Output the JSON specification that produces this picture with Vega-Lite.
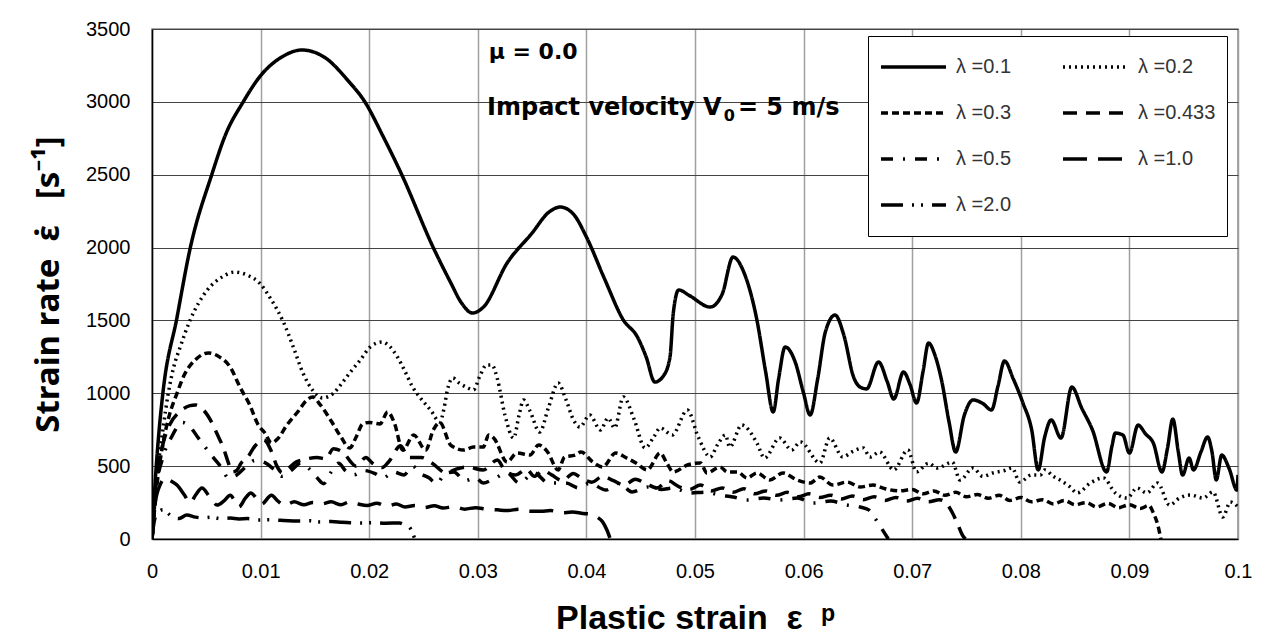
{
"$schema": "https://vega.github.io/schema/vega-lite/v6.json",
"width": 1086, "height": 510,
"autosize": {"type": "none"},
"padding": {"left": 152, "top": 29, "right": 34, "bottom": 103},
"background": "white",
"config": {"view": {"stroke": "#888", "strokeWidth": 1.5}, "font": "Liberation Sans"},
"datasets": {
"curves": [
{"lam":"λ =0.1","x":0,"y":0},{"lam":"λ =0.1","x":0.0003,"y":400},{"lam":"λ =0.1","x":0.0006,"y":700},{"lam":"λ =0.1","x":0.001,"y":1000},{"lam":"λ =0.1","x":0.0023,"y":1520},{"lam":"λ =0.1","x":0.0035,"y":1990},{"lam":"λ =0.1","x":0.0055,"y":2500},{"lam":"λ =0.1","x":0.0068,"y":2780},{"lam":"λ =0.1","x":0.0084,"y":3000},{"lam":"λ =0.1","x":0.01,"y":3180},{"lam":"λ =0.1","x":0.012,"y":3310},{"lam":"λ =0.1","x":0.0138,"y":3356},{"lam":"λ =0.1","x":0.016,"y":3300},{"lam":"λ =0.1","x":0.018,"y":3150},{"lam":"λ =0.1","x":0.0196,"y":3000},{"lam":"λ =0.1","x":0.0213,"y":2760},{"lam":"λ =0.1","x":0.023,"y":2500},{"lam":"λ =0.1","x":0.0259,"y":2000},{"lam":"λ =0.1","x":0.0275,"y":1760},{"lam":"λ =0.1","x":0.0285,"y":1620},{"lam":"λ =0.1","x":0.0295,"y":1551},{"lam":"λ =0.1","x":0.0305,"y":1590},{"lam":"λ =0.1","x":0.0327,"y":1894},{"lam":"λ =0.1","x":0.035,"y":2100},{"lam":"λ =0.1","x":0.0365,"y":2240},{"lam":"λ =0.1","x":0.0376,"y":2278},{"lam":"λ =0.1","x":0.0388,"y":2230},{"lam":"λ =0.1","x":0.04,"y":2073},{"lam":"λ =0.1","x":0.0417,"y":1780},{"lam":"λ =0.1","x":0.0434,"y":1503},{"lam":"λ =0.1","x":0.0447,"y":1386},{"lam":"λ =0.1","x":0.0455,"y":1250},{"lam":"λ =0.1","x":0.0463,"y":1077},{"lam":"λ =0.1","x":0.0471,"y":1120},{"lam":"λ =0.1","x":0.0477,"y":1250},{"lam":"λ =0.1","x":0.048,"y":1550},{"lam":"λ =0.1","x":0.0485,"y":1709},{"lam":"λ =0.1","x":0.0495,"y":1670},{"lam":"λ =0.1","x":0.0514,"y":1592},{"lam":"λ =0.1","x":0.0525,"y":1680},{"lam":"λ =0.1","x":0.0535,"y":1935},{"lam":"λ =0.1","x":0.0545,"y":1830},{"lam":"λ =0.1","x":0.0557,"y":1503},{"lam":"λ =0.1","x":0.0565,"y":1150},{"lam":"λ =0.1","x":0.0572,"y":872},{"lam":"λ =0.1","x":0.0577,"y":1100},{"lam":"λ =0.1","x":0.0583,"y":1318},{"lam":"λ =0.1","x":0.0592,"y":1220},{"lam":"λ =0.1","x":0.06,"y":1000},{"lam":"λ =0.1","x":0.0606,"y":851},{"lam":"λ =0.1","x":0.0613,"y":1100},{"lam":"λ =0.1","x":0.062,"y":1420},{"lam":"λ =0.1","x":0.0629,"y":1537},{"lam":"λ =0.1","x":0.0637,"y":1400},{"lam":"λ =0.1","x":0.0646,"y":1112},{"lam":"λ =0.1","x":0.0652,"y":1043},{"lam":"λ =0.1","x":0.0658,"y":1030},{"lam":"λ =0.1","x":0.0669,"y":1215},{"lam":"λ =0.1","x":0.0677,"y":1080},{"lam":"λ =0.1","x":0.0683,"y":961},{"lam":"λ =0.1","x":0.0692,"y":1146},{"lam":"λ =0.1","x":0.0698,"y":1060},{"lam":"λ =0.1","x":0.0704,"y":933},{"lam":"λ =0.1","x":0.071,"y":1150},{"lam":"λ =0.1","x":0.0715,"y":1345},{"lam":"λ =0.1","x":0.0721,"y":1260},{"lam":"λ =0.1","x":0.0727,"y":1091},{"lam":"λ =0.1","x":0.0734,"y":800},{"lam":"λ =0.1","x":0.074,"y":597},{"lam":"λ =0.1","x":0.0748,"y":850},{"lam":"λ =0.1","x":0.0756,"y":954},{"lam":"λ =0.1","x":0.0765,"y":930},{"lam":"λ =0.1","x":0.0773,"y":885},{"lam":"λ =0.1","x":0.0779,"y":1050},{"lam":"λ =0.1","x":0.0785,"y":1222},{"lam":"λ =0.1","x":0.0793,"y":1100},{"lam":"λ =0.1","x":0.0802,"y":933},{"lam":"λ =0.1","x":0.081,"y":750},{"lam":"λ =0.1","x":0.0816,"y":474},{"lam":"λ =0.1","x":0.0822,"y":700},{"lam":"λ =0.1","x":0.0828,"y":817},{"lam":"λ =0.1","x":0.0837,"y":693},{"lam":"λ =0.1","x":0.0847,"y":1043},{"lam":"λ =0.1","x":0.0856,"y":900},{"lam":"λ =0.1","x":0.0866,"y":748},{"lam":"λ =0.1","x":0.0879,"y":460},{"lam":"λ =0.1","x":0.0884,"y":640},{"lam":"λ =0.1","x":0.0887,"y":727},{"lam":"λ =0.1","x":0.0894,"y":714},{"lam":"λ =0.1","x":0.09,"y":590},{"lam":"λ =0.1","x":0.0908,"y":782},{"lam":"λ =0.1","x":0.0915,"y":720},{"lam":"λ =0.1","x":0.0922,"y":659},{"lam":"λ =0.1","x":0.093,"y":460},{"lam":"λ =0.1","x":0.0935,"y":620},{"lam":"λ =0.1","x":0.094,"y":823},{"lam":"λ =0.1","x":0.0945,"y":600},{"lam":"λ =0.1","x":0.0949,"y":439},{"lam":"λ =0.1","x":0.0955,"y":556},{"lam":"λ =0.1","x":0.0959,"y":474},{"lam":"λ =0.1","x":0.0966,"y":600},{"lam":"λ =0.1","x":0.0972,"y":700},{"lam":"λ =0.1","x":0.0976,"y":600},{"lam":"λ =0.1","x":0.098,"y":405},{"lam":"λ =0.1","x":0.0985,"y":576},{"lam":"λ =0.1","x":0.0992,"y":480},{"lam":"λ =0.1","x":0.0999,"y":336},{"lam":"λ =0.1","x":0.1,"y":440},
{"lam":"λ =0.2","x":0,"y":0},{"lam":"λ =0.2","x":0.0005,"y":450},{"lam":"λ =0.2","x":0.001,"y":750},{"lam":"λ =0.2","x":0.0015,"y":1000},{"lam":"λ =0.2","x":0.002,"y":1180},{"lam":"λ =0.2","x":0.0026,"y":1318},{"lam":"λ =0.2","x":0.0035,"y":1500},{"lam":"λ =0.2","x":0.0051,"y":1709},{"lam":"λ =0.2","x":0.0065,"y":1800},{"lam":"λ =0.2","x":0.0076,"y":1832},{"lam":"λ =0.2","x":0.0088,"y":1810},{"lam":"λ =0.2","x":0.0099,"y":1757},{"lam":"λ =0.2","x":0.011,"y":1640},{"lam":"λ =0.2","x":0.0121,"y":1489},{"lam":"λ =0.2","x":0.013,"y":1320},{"lam":"λ =0.2","x":0.0139,"y":1139},{"lam":"λ =0.2","x":0.0148,"y":1020},{"lam":"λ =0.2","x":0.0157,"y":968},{"lam":"λ =0.2","x":0.0167,"y":1000},{"lam":"λ =0.2","x":0.0176,"y":1080},{"lam":"λ =0.2","x":0.0182,"y":1139},{"lam":"λ =0.2","x":0.0192,"y":1230},{"lam":"λ =0.2","x":0.0201,"y":1318},{"lam":"λ =0.2","x":0.0212,"y":1352},{"lam":"λ =0.2","x":0.0219,"y":1320},{"lam":"λ =0.2","x":0.0226,"y":1249},{"lam":"λ =0.2","x":0.0233,"y":1150},{"lam":"λ =0.2","x":0.024,"y":1043},{"lam":"λ =0.2","x":0.0248,"y":960},{"lam":"λ =0.2","x":0.0257,"y":880},{"lam":"λ =0.2","x":0.0265,"y":803},{"lam":"λ =0.2","x":0.0269,"y":900},{"lam":"λ =0.2","x":0.0272,"y":1022},{"lam":"λ =0.2","x":0.0277,"y":1105},{"lam":"λ =0.2","x":0.0283,"y":1070},{"lam":"λ =0.2","x":0.029,"y":1040},{"lam":"λ =0.2","x":0.0296,"y":1023},{"lam":"λ =0.2","x":0.0302,"y":1120},{"lam":"λ =0.2","x":0.0308,"y":1194},{"lam":"λ =0.2","x":0.0313,"y":1194},{"lam":"λ =0.2","x":0.0318,"y":1100},{"lam":"λ =0.2","x":0.0325,"y":850},{"lam":"λ =0.2","x":0.0333,"y":693},{"lam":"λ =0.2","x":0.0338,"y":850},{"lam":"λ =0.2","x":0.0342,"y":954},{"lam":"λ =0.2","x":0.0348,"y":880},{"lam":"λ =0.2","x":0.0357,"y":734},{"lam":"λ =0.2","x":0.0365,"y":900},{"lam":"λ =0.2","x":0.0374,"y":1071},{"lam":"λ =0.2","x":0.0381,"y":960},{"lam":"λ =0.2","x":0.0388,"y":820},{"lam":"λ =0.2","x":0.0394,"y":769},{"lam":"λ =0.2","x":0.0403,"y":851},{"lam":"λ =0.2","x":0.0413,"y":748},{"lam":"λ =0.2","x":0.042,"y":830},{"lam":"λ =0.2","x":0.0426,"y":762},{"lam":"λ =0.2","x":0.0434,"y":975},{"lam":"λ =0.2","x":0.0444,"y":820},{"lam":"λ =0.2","x":0.0454,"y":625},{"lam":"λ =0.2","x":0.0462,"y":700},{"lam":"λ =0.2","x":0.0468,"y":762},{"lam":"λ =0.2","x":0.0479,"y":714},{"lam":"λ =0.2","x":0.0493,"y":885},{"lam":"λ =0.2","x":0.0503,"y":700},{"lam":"λ =0.2","x":0.0514,"y":563},{"lam":"λ =0.2","x":0.0521,"y":650},{"lam":"λ =0.2","x":0.0528,"y":714},{"lam":"λ =0.2","x":0.0532,"y":631},{"lam":"λ =0.2","x":0.0543,"y":782},{"lam":"λ =0.2","x":0.0557,"y":659},{"lam":"λ =0.2","x":0.0564,"y":556},{"lam":"λ =0.2","x":0.0578,"y":693},{"lam":"λ =0.2","x":0.0589,"y":611},{"lam":"λ =0.2","x":0.0597,"y":666},{"lam":"λ =0.2","x":0.0615,"y":522},{"lam":"λ =0.2","x":0.0624,"y":693},{"lam":"λ =0.2","x":0.0636,"y":563},{"lam":"λ =0.2","x":0.0645,"y":600},{"lam":"λ =0.2","x":0.0655,"y":625},{"lam":"λ =0.2","x":0.0661,"y":563},{"lam":"λ =0.2","x":0.067,"y":597},{"lam":"λ =0.2","x":0.0683,"y":474},{"lam":"λ =0.2","x":0.0696,"y":611},{"lam":"λ =0.2","x":0.0704,"y":460},{"lam":"λ =0.2","x":0.0715,"y":520},{"lam":"λ =0.2","x":0.0723,"y":487},{"lam":"λ =0.2","x":0.0737,"y":528},{"lam":"λ =0.2","x":0.0744,"y":405},{"lam":"λ =0.2","x":0.0756,"y":487},{"lam":"λ =0.2","x":0.0765,"y":430},{"lam":"λ =0.2","x":0.0774,"y":453},{"lam":"λ =0.2","x":0.0785,"y":470},{"lam":"λ =0.2","x":0.0792,"y":487},{"lam":"λ =0.2","x":0.0799,"y":391},{"lam":"λ =0.2","x":0.081,"y":440},{"lam":"λ =0.2","x":0.0818,"y":439},{"lam":"λ =0.2","x":0.0822,"y":474},{"lam":"λ =0.2","x":0.083,"y":430},{"lam":"λ =0.2","x":0.0836,"y":405},{"lam":"λ =0.2","x":0.0845,"y":360},{"lam":"λ =0.2","x":0.0852,"y":316},{"lam":"λ =0.2","x":0.0864,"y":384},{"lam":"λ =0.2","x":0.0876,"y":419},{"lam":"λ =0.2","x":0.0887,"y":316},{"lam":"λ =0.2","x":0.0898,"y":281},{"lam":"λ =0.2","x":0.0907,"y":350},{"lam":"λ =0.2","x":0.0916,"y":316},{"lam":"λ =0.2","x":0.0926,"y":384},{"lam":"λ =0.2","x":0.0937,"y":233},{"lam":"λ =0.2","x":0.0946,"y":280},{"lam":"λ =0.2","x":0.0956,"y":302},{"lam":"λ =0.2","x":0.0968,"y":281},{"lam":"λ =0.2","x":0.0977,"y":323},{"lam":"λ =0.2","x":0.0986,"y":151},{"lam":"λ =0.2","x":0.0993,"y":254},{"lam":"λ =0.2","x":0.1,"y":220},
{"lam":"λ =0.3","x":0,"y":0},{"lam":"λ =0.3","x":0.0005,"y":400},{"lam":"λ =0.3","x":0.001,"y":650},{"lam":"λ =0.3","x":0.0016,"y":850},{"lam":"λ =0.3","x":0.0023,"y":1000},{"lam":"λ =0.3","x":0.003,"y":1130},{"lam":"λ =0.3","x":0.004,"y":1230},{"lam":"λ =0.3","x":0.0052,"y":1277},{"lam":"λ =0.3","x":0.0062,"y":1250},{"lam":"λ =0.3","x":0.0072,"y":1180},{"lam":"λ =0.3","x":0.0081,"y":1043},{"lam":"λ =0.3","x":0.009,"y":920},{"lam":"λ =0.3","x":0.0098,"y":780},{"lam":"λ =0.3","x":0.0104,"y":727},{"lam":"λ =0.3","x":0.011,"y":660},{"lam":"λ =0.3","x":0.0116,"y":690},{"lam":"λ =0.3","x":0.0124,"y":780},{"lam":"λ =0.3","x":0.0135,"y":880},{"lam":"λ =0.3","x":0.0142,"y":950},{"lam":"λ =0.3","x":0.0148,"y":975},{"lam":"λ =0.3","x":0.0155,"y":920},{"lam":"λ =0.3","x":0.0165,"y":810},{"lam":"λ =0.3","x":0.0174,"y":700},{"lam":"λ =0.3","x":0.0182,"y":624},{"lam":"λ =0.3","x":0.0188,"y":700},{"lam":"λ =0.3","x":0.0194,"y":790},{"lam":"λ =0.3","x":0.02,"y":800},{"lam":"λ =0.3","x":0.021,"y":790},{"lam":"λ =0.3","x":0.0217,"y":872},{"lam":"λ =0.3","x":0.0223,"y":800},{"lam":"λ =0.3","x":0.0231,"y":610},{"lam":"λ =0.3","x":0.0241,"y":714},{"lam":"λ =0.3","x":0.0252,"y":610},{"lam":"λ =0.3","x":0.0259,"y":748},{"lam":"λ =0.3","x":0.0265,"y":800},{"lam":"λ =0.3","x":0.0275,"y":645},{"lam":"λ =0.3","x":0.0287,"y":610},{"lam":"λ =0.3","x":0.0296,"y":631},{"lam":"λ =0.3","x":0.0305,"y":631},{"lam":"λ =0.3","x":0.031,"y":714},{"lam":"λ =0.3","x":0.0315,"y":690},{"lam":"λ =0.3","x":0.0327,"y":528},{"lam":"λ =0.3","x":0.0336,"y":590},{"lam":"λ =0.3","x":0.0348,"y":576},{"lam":"λ =0.3","x":0.0356,"y":645},{"lam":"λ =0.3","x":0.0364,"y":600},{"lam":"λ =0.3","x":0.0374,"y":474},{"lam":"λ =0.3","x":0.038,"y":563},{"lam":"λ =0.3","x":0.039,"y":576},{"lam":"λ =0.3","x":0.0395,"y":597},{"lam":"λ =0.3","x":0.0406,"y":528},{"lam":"λ =0.3","x":0.0415,"y":494},{"lam":"λ =0.3","x":0.0427,"y":590},{"lam":"λ =0.3","x":0.0437,"y":556},{"lam":"λ =0.3","x":0.0446,"y":520},{"lam":"λ =0.3","x":0.0456,"y":474},{"lam":"λ =0.3","x":0.0468,"y":590},{"lam":"λ =0.3","x":0.0474,"y":522},{"lam":"λ =0.3","x":0.048,"y":460},{"lam":"λ =0.3","x":0.0493,"y":508},{"lam":"λ =0.3","x":0.0505,"y":522},{"lam":"λ =0.3","x":0.0511,"y":453},{"lam":"λ =0.3","x":0.0523,"y":494},{"lam":"λ =0.3","x":0.053,"y":460},{"lam":"λ =0.3","x":0.0539,"y":460},{"lam":"λ =0.3","x":0.0548,"y":419},{"lam":"λ =0.3","x":0.0557,"y":453},{"lam":"λ =0.3","x":0.0569,"y":405},{"lam":"λ =0.3","x":0.0581,"y":453},{"lam":"λ =0.3","x":0.0594,"y":405},{"lam":"λ =0.3","x":0.0606,"y":384},{"lam":"λ =0.3","x":0.0615,"y":425},{"lam":"λ =0.3","x":0.0627,"y":370},{"lam":"λ =0.3","x":0.064,"y":391},{"lam":"λ =0.3","x":0.0652,"y":357},{"lam":"λ =0.3","x":0.0664,"y":370},{"lam":"λ =0.3","x":0.0675,"y":345},{"lam":"λ =0.3","x":0.0688,"y":330},{"lam":"λ =0.3","x":0.07,"y":340},{"lam":"λ =0.3","x":0.071,"y":310},{"lam":"λ =0.3","x":0.072,"y":330},{"lam":"λ =0.3","x":0.073,"y":300},{"lam":"λ =0.3","x":0.074,"y":320},{"lam":"λ =0.3","x":0.075,"y":290},{"lam":"λ =0.3","x":0.076,"y":305},{"lam":"λ =0.3","x":0.077,"y":280},{"lam":"λ =0.3","x":0.078,"y":300},{"lam":"λ =0.3","x":0.079,"y":265},{"lam":"λ =0.3","x":0.08,"y":285},{"lam":"λ =0.3","x":0.081,"y":255},{"lam":"λ =0.3","x":0.082,"y":270},{"lam":"λ =0.3","x":0.083,"y":240},{"lam":"λ =0.3","x":0.084,"y":265},{"lam":"λ =0.3","x":0.085,"y":235},{"lam":"λ =0.3","x":0.086,"y":250},{"lam":"λ =0.3","x":0.087,"y":220},{"lam":"λ =0.3","x":0.088,"y":245},{"lam":"λ =0.3","x":0.089,"y":215},{"lam":"λ =0.3","x":0.09,"y":235},{"lam":"λ =0.3","x":0.091,"y":210},{"lam":"λ =0.3","x":0.0918,"y":230},{"lam":"λ =0.3","x":0.0922,"y":180},{"lam":"λ =0.3","x":0.0926,"y":100},{"lam":"λ =0.3","x":0.0929,"y":0},
{"lam":"λ =0.433","x":0,"y":0},{"lam":"λ =0.433","x":0.0004,"y":400},{"lam":"λ =0.433","x":0.001,"y":650},{"lam":"λ =0.433","x":0.0016,"y":780},{"lam":"λ =0.433","x":0.0025,"y":870},{"lam":"λ =0.433","x":0.0035,"y":915},{"lam":"λ =0.433","x":0.004,"y":920},{"lam":"λ =0.433","x":0.0048,"y":880},{"lam":"λ =0.433","x":0.0055,"y":800},{"lam":"λ =0.433","x":0.006,"y":720},{"lam":"λ =0.433","x":0.0066,"y":620},{"lam":"λ =0.433","x":0.007,"y":530},{"lam":"λ =0.433","x":0.0074,"y":460},{"lam":"λ =0.433","x":0.0078,"y":470},{"lam":"λ =0.433","x":0.0082,"y":520},{"lam":"λ =0.433","x":0.0088,"y":560},{"lam":"λ =0.433","x":0.0095,"y":640},{"lam":"λ =0.433","x":0.0103,"y":680},{"lam":"λ =0.433","x":0.011,"y":600},{"lam":"λ =0.433","x":0.0115,"y":500},{"lam":"λ =0.433","x":0.012,"y":455},{"lam":"λ =0.433","x":0.0125,"y":480},{"lam":"λ =0.433","x":0.0133,"y":530},{"lam":"λ =0.433","x":0.014,"y":545},{"lam":"λ =0.433","x":0.0152,"y":560},{"lam":"λ =0.433","x":0.016,"y":550},{"lam":"λ =0.433","x":0.0167,"y":620},{"lam":"λ =0.433","x":0.0175,"y":600},{"lam":"λ =0.433","x":0.0188,"y":500},{"lam":"λ =0.433","x":0.0197,"y":560},{"lam":"λ =0.433","x":0.0203,"y":520},{"lam":"λ =0.433","x":0.0212,"y":490},{"lam":"λ =0.433","x":0.0218,"y":530},{"lam":"λ =0.433","x":0.0229,"y":640},{"lam":"λ =0.433","x":0.0236,"y":560},{"lam":"λ =0.433","x":0.0248,"y":560},{"lam":"λ =0.433","x":0.0258,"y":520},{"lam":"λ =0.433","x":0.0271,"y":453},{"lam":"λ =0.433","x":0.028,"y":480},{"lam":"λ =0.433","x":0.029,"y":494},{"lam":"λ =0.433","x":0.0305,"y":474},{"lam":"λ =0.433","x":0.0318,"y":542},{"lam":"λ =0.433","x":0.0325,"y":470},{"lam":"λ =0.433","x":0.0335,"y":440},{"lam":"λ =0.433","x":0.0345,"y":480},{"lam":"λ =0.433","x":0.0352,"y":430},{"lam":"λ =0.433","x":0.036,"y":470},{"lam":"λ =0.433","x":0.0368,"y":440},{"lam":"λ =0.433","x":0.0378,"y":400},{"lam":"λ =0.433","x":0.0388,"y":450},{"lam":"λ =0.433","x":0.0395,"y":420},{"lam":"λ =0.433","x":0.0405,"y":390},{"lam":"λ =0.433","x":0.0415,"y":430},{"lam":"λ =0.433","x":0.0425,"y":400},{"lam":"λ =0.433","x":0.0435,"y":370},{"lam":"λ =0.433","x":0.0445,"y":410},{"lam":"λ =0.433","x":0.0455,"y":380},{"lam":"λ =0.433","x":0.0465,"y":350},{"lam":"λ =0.433","x":0.0475,"y":400},{"lam":"λ =0.433","x":0.0485,"y":360},{"lam":"λ =0.433","x":0.0495,"y":340},{"lam":"λ =0.433","x":0.0505,"y":370},{"lam":"λ =0.433","x":0.0515,"y":330},{"lam":"λ =0.433","x":0.0525,"y":350},{"lam":"λ =0.433","x":0.0535,"y":320},{"lam":"λ =0.433","x":0.0545,"y":345},{"lam":"λ =0.433","x":0.0555,"y":310},{"lam":"λ =0.433","x":0.0565,"y":330},{"lam":"λ =0.433","x":0.0575,"y":300},{"lam":"λ =0.433","x":0.0585,"y":320},{"lam":"λ =0.433","x":0.0595,"y":290},{"lam":"λ =0.433","x":0.0605,"y":310},{"lam":"λ =0.433","x":0.0615,"y":285},{"lam":"λ =0.433","x":0.0625,"y":300},{"lam":"λ =0.433","x":0.0635,"y":275},{"lam":"λ =0.433","x":0.0645,"y":295},{"lam":"λ =0.433","x":0.0655,"y":270},{"lam":"λ =0.433","x":0.0665,"y":290},{"lam":"λ =0.433","x":0.0675,"y":265},{"lam":"λ =0.433","x":0.0685,"y":285},{"lam":"λ =0.433","x":0.0695,"y":260},{"lam":"λ =0.433","x":0.0705,"y":280},{"lam":"λ =0.433","x":0.0715,"y":255},{"lam":"λ =0.433","x":0.0725,"y":270},{"lam":"λ =0.433","x":0.0732,"y":240},{"lam":"λ =0.433","x":0.0737,"y":180},{"lam":"λ =0.433","x":0.0742,"y":100},{"lam":"λ =0.433","x":0.0746,"y":30},{"lam":"λ =0.433","x":0.0749,"y":0},
{"lam":"λ =0.5","x":0,"y":0},{"lam":"λ =0.5","x":0.0004,"y":350},{"lam":"λ =0.5","x":0.001,"y":560},{"lam":"λ =0.5","x":0.0018,"y":700},{"lam":"λ =0.5","x":0.0028,"y":800},{"lam":"λ =0.5","x":0.0035,"y":770},{"lam":"λ =0.5","x":0.0042,"y":700},{"lam":"λ =0.5","x":0.005,"y":620},{"lam":"λ =0.5","x":0.0058,"y":545},{"lam":"λ =0.5","x":0.0065,"y":480},{"lam":"λ =0.5","x":0.007,"y":420},{"lam":"λ =0.5","x":0.0078,"y":440},{"lam":"λ =0.5","x":0.0087,"y":500},{"lam":"λ =0.5","x":0.0095,"y":540},{"lam":"λ =0.5","x":0.0105,"y":520},{"lam":"λ =0.5","x":0.0112,"y":480},{"lam":"λ =0.5","x":0.012,"y":430},{"lam":"λ =0.5","x":0.0128,"y":470},{"lam":"λ =0.5","x":0.0137,"y":520},{"lam":"λ =0.5","x":0.0145,"y":480},{"lam":"λ =0.5","x":0.0152,"y":420},{"lam":"λ =0.5","x":0.0158,"y":380},{"lam":"λ =0.5","x":0.0165,"y":460},{"lam":"λ =0.5","x":0.0172,"y":520},{"lam":"λ =0.5","x":0.0178,"y":470},{"lam":"λ =0.5","x":0.0186,"y":440},{"lam":"λ =0.5","x":0.0195,"y":470},{"lam":"λ =0.5","x":0.0205,"y":450},{"lam":"λ =0.5","x":0.0213,"y":420},{"lam":"λ =0.5","x":0.0222,"y":460},{"lam":"λ =0.5","x":0.0232,"y":440},{"lam":"λ =0.5","x":0.024,"y":500},{"lam":"λ =0.5","x":0.0247,"y":450},{"lam":"λ =0.5","x":0.0255,"y":420},{"lam":"λ =0.5","x":0.0262,"y":380},{"lam":"λ =0.5","x":0.027,"y":450},{"lam":"λ =0.5","x":0.0278,"y":460},{"lam":"λ =0.5","x":0.0288,"y":400},{"lam":"λ =0.5","x":0.0298,"y":420},{"lam":"λ =0.5","x":0.0305,"y":384},{"lam":"λ =0.5","x":0.0313,"y":405},{"lam":"λ =0.5","x":0.0327,"y":453},{"lam":"λ =0.5","x":0.0338,"y":384},{"lam":"λ =0.5","x":0.0352,"y":453},{"lam":"λ =0.5","x":0.0365,"y":384},{"lam":"λ =0.5","x":0.0381,"y":384},{"lam":"λ =0.5","x":0.0393,"y":350},{"lam":"λ =0.5","x":0.0403,"y":383},{"lam":"λ =0.5","x":0.0418,"y":336},{"lam":"λ =0.5","x":0.043,"y":384},{"lam":"λ =0.5","x":0.0442,"y":323},{"lam":"λ =0.5","x":0.0457,"y":357},{"lam":"λ =0.5","x":0.0469,"y":340},{"lam":"λ =0.5","x":0.048,"y":350},{"lam":"λ =0.5","x":0.0495,"y":316},{"lam":"λ =0.5","x":0.051,"y":322},{"lam":"λ =0.5","x":0.0522,"y":302},{"lam":"λ =0.5","x":0.0535,"y":288},{"lam":"λ =0.5","x":0.0548,"y":268},{"lam":"λ =0.5","x":0.0563,"y":281},{"lam":"λ =0.5","x":0.0578,"y":268},{"lam":"λ =0.5","x":0.0594,"y":281},{"lam":"λ =0.5","x":0.0609,"y":247},{"lam":"λ =0.5","x":0.0625,"y":260},{"lam":"λ =0.5","x":0.064,"y":233},{"lam":"λ =0.5","x":0.0652,"y":220},{"lam":"λ =0.5","x":0.066,"y":200},{"lam":"λ =0.5","x":0.0665,"y":150},{"lam":"λ =0.5","x":0.0672,"y":70},{"lam":"λ =0.5","x":0.0678,"y":0},
{"lam":"λ =1.0","x":0,"y":0},{"lam":"λ =1.0","x":0.0003,"y":250},{"lam":"λ =1.0","x":0.0008,"y":380},{"lam":"λ =1.0","x":0.0012,"y":419},{"lam":"λ =1.0","x":0.0017,"y":400},{"lam":"λ =1.0","x":0.0023,"y":370},{"lam":"λ =1.0","x":0.003,"y":300},{"lam":"λ =1.0","x":0.0035,"y":247},{"lam":"λ =1.0","x":0.004,"y":300},{"lam":"λ =1.0","x":0.0046,"y":350},{"lam":"λ =1.0","x":0.0053,"y":290},{"lam":"λ =1.0","x":0.006,"y":233},{"lam":"λ =1.0","x":0.0066,"y":260},{"lam":"λ =1.0","x":0.0072,"y":300},{"lam":"λ =1.0","x":0.0077,"y":250},{"lam":"λ =1.0","x":0.008,"y":220},{"lam":"λ =1.0","x":0.0086,"y":280},{"lam":"λ =1.0","x":0.0091,"y":316},{"lam":"λ =1.0","x":0.0097,"y":270},{"lam":"λ =1.0","x":0.0101,"y":240},{"lam":"λ =1.0","x":0.011,"y":300},{"lam":"λ =1.0","x":0.0116,"y":260},{"lam":"λ =1.0","x":0.0122,"y":230},{"lam":"λ =1.0","x":0.0131,"y":255},{"lam":"λ =1.0","x":0.014,"y":235},{"lam":"λ =1.0","x":0.0148,"y":250},{"lam":"λ =1.0","x":0.0156,"y":240},{"lam":"λ =1.0","x":0.0165,"y":255},{"lam":"λ =1.0","x":0.0174,"y":235},{"lam":"λ =1.0","x":0.0182,"y":255},{"lam":"λ =1.0","x":0.019,"y":240},{"lam":"λ =1.0","x":0.0198,"y":230},{"lam":"λ =1.0","x":0.0207,"y":245},{"lam":"λ =1.0","x":0.0216,"y":225},{"lam":"λ =1.0","x":0.0225,"y":240},{"lam":"λ =1.0","x":0.0233,"y":220},{"lam":"λ =1.0","x":0.0242,"y":230},{"lam":"λ =1.0","x":0.025,"y":215},{"lam":"λ =1.0","x":0.026,"y":228},{"lam":"λ =1.0","x":0.0268,"y":212},{"lam":"λ =1.0","x":0.0278,"y":222},{"lam":"λ =1.0","x":0.0288,"y":205},{"lam":"λ =1.0","x":0.0298,"y":215},{"lam":"λ =1.0","x":0.0308,"y":205},{"lam":"λ =1.0","x":0.0318,"y":200},{"lam":"λ =1.0","x":0.0327,"y":195},{"lam":"λ =1.0","x":0.0338,"y":205},{"lam":"λ =1.0","x":0.0348,"y":190},{"lam":"λ =1.0","x":0.0358,"y":190},{"lam":"λ =1.0","x":0.0367,"y":195},{"lam":"λ =1.0","x":0.0377,"y":180},{"lam":"λ =1.0","x":0.0387,"y":185},{"lam":"λ =1.0","x":0.0397,"y":175},{"lam":"λ =1.0","x":0.0405,"y":170},{"lam":"λ =1.0","x":0.041,"y":150},{"lam":"λ =1.0","x":0.0415,"y":117},{"lam":"λ =1.0","x":0.0419,"y":60},{"lam":"λ =1.0","x":0.0422,"y":0},
{"lam":"λ =2.0","x":0,"y":0},{"lam":"λ =2.0","x":0.0002,"y":120},{"lam":"λ =2.0","x":0.0005,"y":180},{"lam":"λ =2.0","x":0.001,"y":200},{"lam":"λ =2.0","x":0.0019,"y":150},{"lam":"λ =2.0","x":0.0025,"y":140},{"lam":"λ =2.0","x":0.0032,"y":165},{"lam":"λ =2.0","x":0.004,"y":150},{"lam":"λ =2.0","x":0.0046,"y":145},{"lam":"λ =2.0","x":0.0055,"y":150},{"lam":"λ =2.0","x":0.0063,"y":140},{"lam":"λ =2.0","x":0.0072,"y":144},{"lam":"λ =2.0","x":0.008,"y":138},{"lam":"λ =2.0","x":0.0088,"y":140},{"lam":"λ =2.0","x":0.0098,"y":130},{"lam":"λ =2.0","x":0.0108,"y":132},{"lam":"λ =2.0","x":0.0118,"y":128},{"lam":"λ =2.0","x":0.0137,"y":123},{"lam":"λ =2.0","x":0.0145,"y":125},{"lam":"λ =2.0","x":0.0155,"y":117},{"lam":"λ =2.0","x":0.0165,"y":120},{"lam":"λ =2.0","x":0.0175,"y":115},{"lam":"λ =2.0","x":0.0183,"y":112},{"lam":"λ =2.0","x":0.0194,"y":110},{"lam":"λ =2.0","x":0.0205,"y":112},{"lam":"λ =2.0","x":0.0215,"y":108},{"lam":"λ =2.0","x":0.0228,"y":110},{"lam":"λ =2.0","x":0.0232,"y":100},{"lam":"λ =2.0","x":0.0237,"y":82},{"lam":"λ =2.0","x":0.024,"y":40},{"lam":"λ =2.0","x":0.0242,"y":0}
],
"notes": [
{"t":"μ = 0.0","x":0.031,"y":3294,"k":"mu"},
{"t":"Impact velocity V","x":0.03085,"y":2910,"k":"iv"},
{"t":"0","x":0.05265,"y":2872,"k":"sub"},
{"t":"= 5 m/s","x":0.05395,"y":2910,"k":"iv"}
]
},
"layer": [
{
"data": {"name": "curves"},
"mark": {"type": "line", "strokeWidth": 3.5, "strokeCap": "butt", "color": "black", "interpolate": "monotone", "clip": true},
"encoding": {
"x": {"field": "x", "type": "quantitative", "scale": {"domain": [0, 0.1], "nice": false},
 "axis": {"values": [0,0.01,0.02,0.03,0.04,0.05,0.06,0.07,0.08,0.09,0.1], "format": ".2~f", "ticks": false, "labelFontSize": 20, "labelColor": "black", "labelPadding": 22, "labelFlush": false, "domainColor": "black", "domainWidth": 1.5, "gridColor": "#a0a0a0", "gridWidth": 1.5, "title": "Plastic strain\u00a0\u00a0ε\u00a0\u00a0ᵖ", "titleFont": "Liberation Sans", "titleFontSize": 34, "titleFontWeight": "bold", "titleColor": "black", "titlePadding": 20}},
"y": {"field": "y", "type": "quantitative", "scale": {"domain": [0, 3500], "nice": false},
 "axis": {"values": [0,500,1000,1500,2000,2500,3000,3500], "format": "d", "ticks": false, "labelFontSize": 20, "labelColor": "black", "labelPadding": 22, "domainColor": "black", "domainWidth": 1.5, "gridColor": "#444", "gridWidth": 1, "title": "Strain rate\u00a0\u00a0ε̇\u00a0\u00a0\u00a0[s⁻¹]", "titleFont": "Noto Sans", "titleFontSize": 33, "titleFontWeight": "bold", "titleColor": "black", "titlePadding": 20}},
"strokeDash": {"field": "lam", "type": "nominal",
 "scale": {"domain": ["λ =0.1","λ =0.2","λ =0.3","λ =0.433","λ =0.5","λ =1.0","λ =2.0"],
  "range": [[1,0],[2,4],[7,4],[14,9],[12,10,2,10],[24,11],[22,9,2,7,2,9]]},
 "legend": {"title": null, "orient": "none", "legendX": 716, "legendY": 7, "columns": 2, "direction": "horizontal", "symbolType": "stroke", "symbolSize": 4225, "symbolStrokeWidth": 3.5, "symbolStrokeColor": "black", "labelFontSize": 20, "labelFont": "Liberation Sans", "labelColor": "#333", "strokeColor": "black", "fillColor": "white", "padding": 11, "rowPadding": 6, "columnPadding": 49, "clipHeight": 40, "labelOffset": 8}}
}
},
{
"data": {"name": "notes"},
"transform": [{"filter": "datum.k == 'mu'"}],
"mark": {"type": "text", "align": "left", "baseline": "alphabetic", "fontSize": 22, "fontWeight": "bold", "font": "DejaVu Sans", "color": "black"},
"encoding": {"x": {"field": "x", "type": "quantitative"}, "y": {"field": "y", "type": "quantitative"}, "text": {"field": "t"}}
},
{
"data": {"name": "notes"},
"transform": [{"filter": "datum.k == 'iv'"}],
"mark": {"type": "text", "align": "left", "baseline": "alphabetic", "fontSize": 24, "fontWeight": "bold", "font": "DejaVu Sans", "color": "black"},
"encoding": {"x": {"field": "x", "type": "quantitative"}, "y": {"field": "y", "type": "quantitative"}, "text": {"field": "t"}}
},
{
"data": {"name": "notes"},
"transform": [{"filter": "datum.k == 'sub'"}],
"mark": {"type": "text", "align": "left", "baseline": "alphabetic", "fontSize": 16, "fontWeight": "bold", "font": "DejaVu Sans", "color": "black"},
"encoding": {"x": {"field": "x", "type": "quantitative"}, "y": {"field": "y", "type": "quantitative"}, "text": {"field": "t"}}
}
]
}
